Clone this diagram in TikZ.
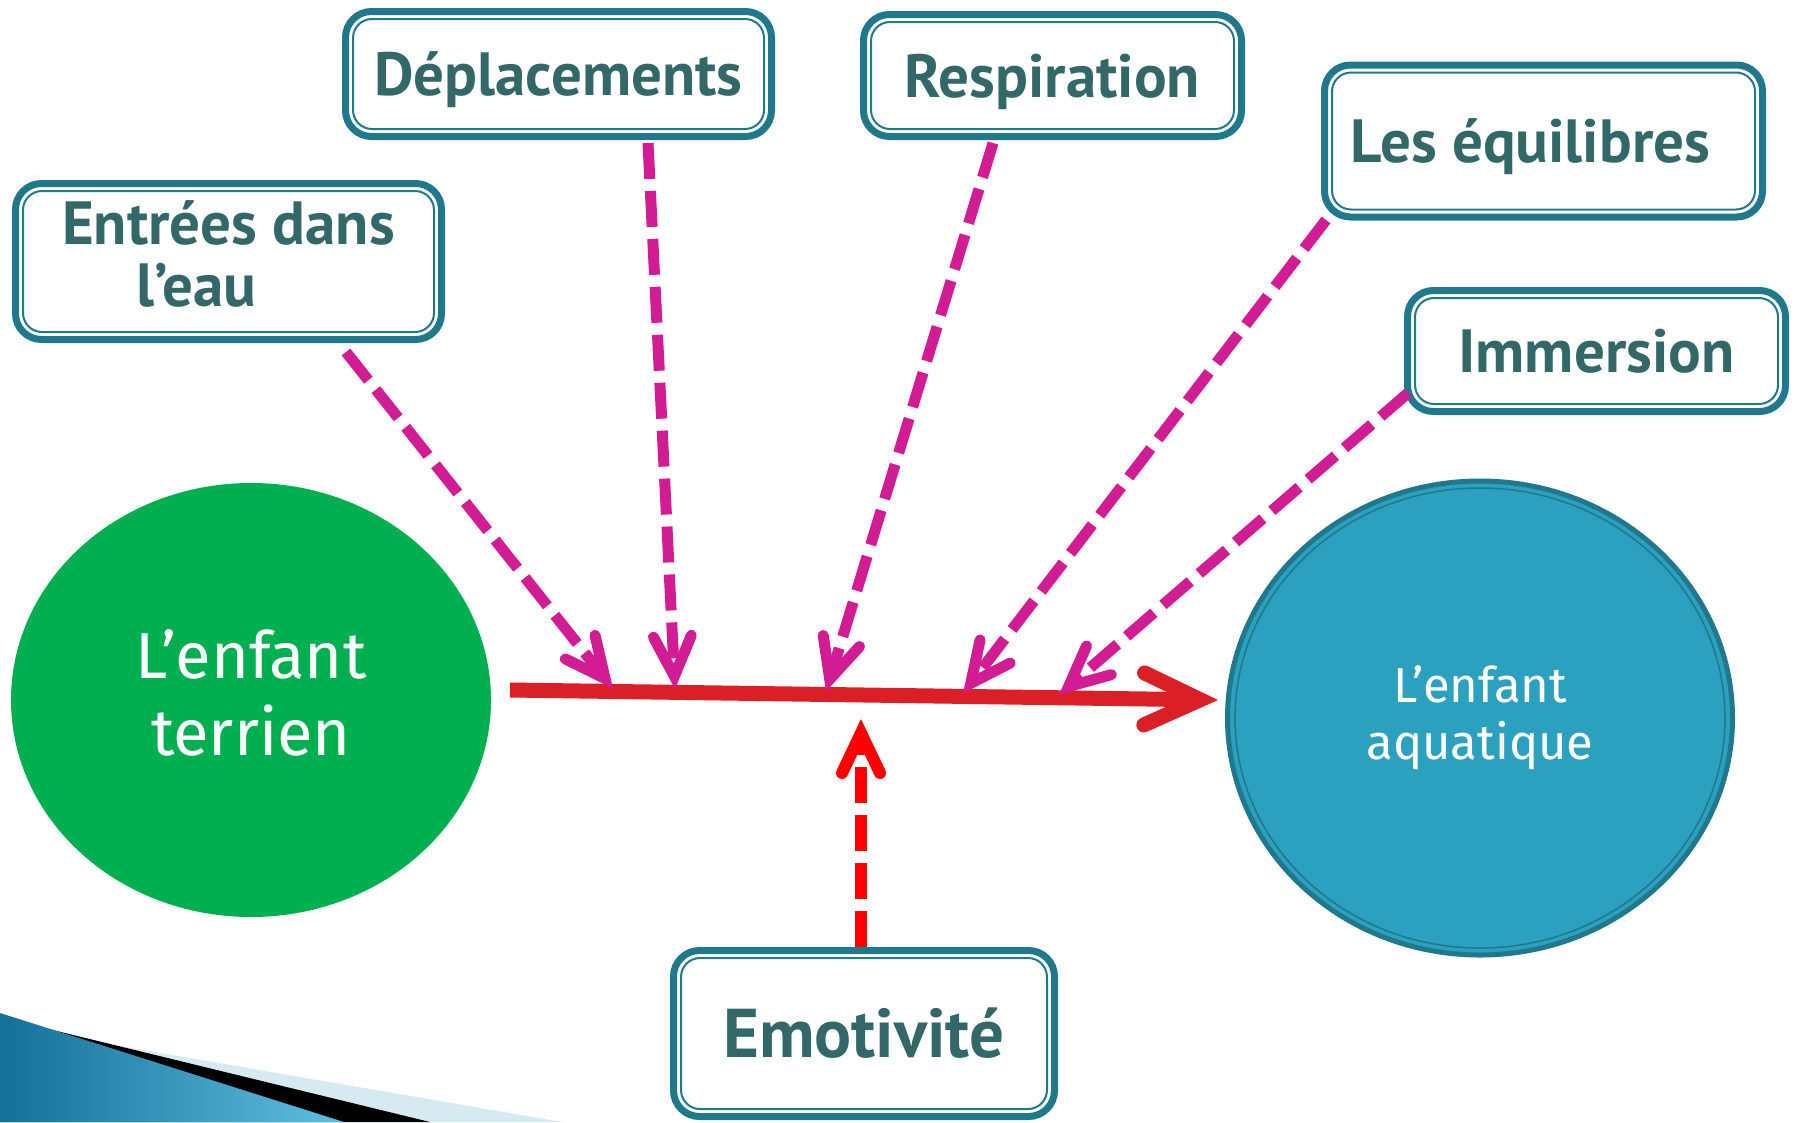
\documentclass[tikz,border=0pt]{standalone}
\usepackage{fontspec}
\setmainfont{PT Sans}
\newfontfamily\circfont{Fira Sans}
\usetikzlibrary{arrows.meta,shapes.geometric,calc}
\definecolor{boxc}{RGB}{31,120,140}
\definecolor{txtc}{RGB}{50,104,103}
\definecolor{grn}{RGB}{0,176,80}
\definecolor{aquc}{RGB}{44,161,191}
\definecolor{aqub}{RGB}{31,120,140}
\definecolor{mag}{RGB}{210,28,147}
\definecolor{redl}{RGB}{218,31,38}
\definecolor{redE}{RGB}{255,0,0}
\definecolor{swl}{RGB}{214,234,242}
\definecolor{swa}{RGB}{20,112,152}
\definecolor{swb}{RGB}{95,190,224}
\newcommand\innerframe[1]{\draw[boxc, line width=2pt, rounded corners=19pt] ([shift={(7.5pt,-7.5pt)}]#1.north west) rectangle ([shift={(-7.5pt,7.5pt)}]#1.south east);}
\begin{document}
\begin{tikzpicture}[x=1pt,y=-1pt,
  tbox/.style={draw=boxc, line width=7pt, fill=white, rounded corners=26pt, outer sep=0pt, inner sep=0pt, text=txtc, font=\bfseries\fontsize{61}{62}\selectfont, align=center},
  oneline/.style={text height=43pt, text depth=0pt},
  magarrow/.style={draw=mag, line width=11pt, dash pattern=on 36pt off 12pt, -{Straight Barb[length=40pt,width=38pt,line cap=round,line join=miter]}},
  redarrow/.style={draw=redE, line width=12pt, dash pattern=on 36pt off 12pt, -{Straight Barb[length=40pt,width=38pt,line cap=round,line join=miter]}},
  mainarrow/.style={draw=redl, line width=15pt, -{Straight Barb[length=56pt,width=52pt,line cap=round,line join=miter]}}
]
\useasboundingbox (0,0) rectangle (1798,1122);
% bottom-left swoosh
\fill[swl] (62,1036) -- (562,1122) -- (0,1122) -- cycle;
\fill[black] (20,1022) -- (430,1122) -- (0,1122) -- cycle;
\shade[left color=swa, right color=swb] (0,1013) -- (344,1122) -- (0,1122) -- cycle;

% ellipses
\node[ellipse, fill=grn, minimum width=480pt, minimum height=434pt, inner sep=0pt, text=white, align=center, font=\circfont\fontsize{65}{77}\selectfont] (ter) at (251,700) {L’enfant\\terrien\rule[-15pt]{0pt}{0pt}};
\node[ellipse, fill=aquc, draw=aqub, line width=5pt, minimum width=505pt, minimum height=474pt, inner sep=0pt, text=white, align=center, font=\circfont\fontsize{49}{57}\selectfont] (aqu) at (1480,718) {L’enfant\\aquatique\rule[-9pt]{0pt}{0pt}};
\draw[aqub, line width=1.5pt] (aqu.center) ellipse [x radius=245pt, y radius=230pt];

% boxes
\node[tbox, minimum width=426pt, minimum height=156pt] (ent) at (228.5,261.5) {Entrées dans\\l’eau\hspace*{64pt}\rule[-15pt]{0pt}{0pt}};
\node[tbox, oneline, minimum width=426pt, minimum height=125pt] (dep) at (558.5,74) {Déplacements};
\node[tbox, oneline, minimum width=378pt, minimum height=122pt] (res) at (1052.5,75.5) {Respiration};
\node[tbox, oneline, minimum width=438pt, minimum height=152pt] (equ) at (1543.5,141) {Les équilibres\hspace*{26pt}};
\node[tbox, oneline, minimum width=378pt, minimum height=121pt] (imm) at (1596.5,351) {Immersion};
\node[tbox, text height=48pt, text depth=0pt, minimum width=381pt, minimum height=166pt, font=\bfseries\fontsize{69}{70}\selectfont] (emo) at (864,1033.5) {Emotivité};
\innerframe{ent}
\innerframe{dep}
\innerframe{res}
\innerframe{equ}
\innerframe{imm}
\innerframe{emo}

% connector coordinates
\coordinate (r1) at (510,690);
\coordinate (r2) at (1218,700);
\coordinate (s1) at (346,352);
\coordinate (s2) at (648,143);
\coordinate (s3) at (993,143);
\coordinate (s4) at (1326,220);
\coordinate (s5) at (1408,393);
\coordinate (s6) at (861,947);
\coordinate (e1) at (613,688.5);
\coordinate (e2) at (675,689);
\coordinate (e3) at (826,691.5);
\coordinate (e4) at (963,693.4);
\coordinate (e5) at (1059,694.8);
\coordinate (e6) at (861,719);

\draw[mainarrow] (r1) -- (r2);
\draw[magarrow] (s1) -- (e1);
\draw[magarrow] (s2) -- (e2);
\draw[magarrow] (s3) -- (e3);
\draw[magarrow] (s4) -- (e4);
\draw[magarrow] (s5) -- (e5);
\draw[redarrow] (s6) -- (e6);
\end{tikzpicture}
\end{document}
